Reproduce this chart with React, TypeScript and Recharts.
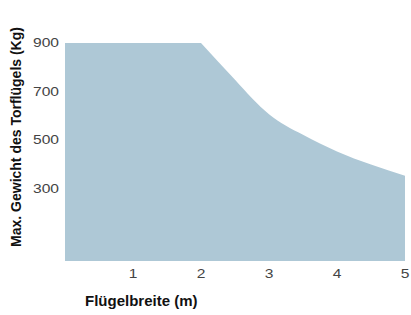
import React from "react";
import { AreaChart, Area, XAxis, YAxis } from "recharts";

// Flügelbreite (m) vs. max. Torflügel-Gewicht (Kg)
// flat part up to 2 m, then the falling curve
const flatWidths = [0, 1, 2];
const flatWeights = [900, 900, 900];
const curveWidths = [2, 2.5, 2.75, 3, 3.25, 3.5, 4, 4.5, 5];
const curveWeights = [900, 748, 672, 606, 558, 521, 452, 398, 352];

const xTicks = [1, 2, 3, 4, 5];
const yTicks = [300, 500, 700, 900];

const flatData = flatWidths.map((w, i) => ({ width: w, weight: flatWeights[i] }));
const curveData = curveWidths.map((w, i) => ({ width: w, weight: curveWeights[i] }));

const FONT = "'Liberation Sans', Arial, Helvetica, sans-serif";
const FILL = "#aec8d6";

// the reference's tick digits are wider than Arial, so stretch them a bit
const StretchTick = ({ x, y, payload, textAnchor, dy }: any) => (
  <g transform={`translate(${x},${y})`}>
    <text
      transform="scale(1.3,1)"
      textAnchor={textAnchor}
      dy={dy}
      fontSize={12}
      fill="#444"
      fontFamily={FONT}
    >
      {payload.value}
    </text>
  </g>
);

export default function App() {
  return (
    <div style={{ position: "absolute", left: 0, top: 0, fontFamily: FONT }}>
      <AreaChart
        width={411}
        height={315}
        margin={{ top: 43, right: 6, bottom: 0, left: 0 }}
      >
        <XAxis
          dataKey="width"
          type="number"
          domain={[0, 5]}
          ticks={xTicks}
          allowDuplicatedCategory={false}
          axisLine={false}
          tickLine={false}
          height={54}
          tick={(p: any) => <StretchTick {...p} textAnchor="middle" dy="0.71em" />}
          label={{
            content: () => (
              <text
                x={85}
                y={306}
                fontSize={15}
                fontWeight="bold"
                fill="#111"
                fontFamily={FONT}
              >
                Flügelbreite (m)
              </text>
            ),
          }}
        />
        <YAxis
          type="number"
          domain={[0, 900]}
          ticks={yTicks}
          axisLine={false}
          tickLine={false}
          tickSize={4}
          width={65}
          tick={(p: any) => <StretchTick {...p} textAnchor="end" dy="0.355em" />}
          label={{
            content: () => (
              <text
                x={21}
                y={137}
                fontSize={14}
                fontWeight="bold"
                fill="#111"
                fontFamily={FONT}
                textAnchor="middle"
                transform="rotate(-90 21 137)"
              >
                Max. Gewicht des Torflügels (Kg)
              </text>
            ),
          }}
        />
        <Area
          data={flatData}
          type="linear"
          dataKey="weight"
          stroke="none"
          fill={FILL}
          fillOpacity={1}
          isAnimationActive={false}
        />
        <Area
          data={curveData}
          type="monotone"
          dataKey="weight"
          stroke="none"
          fill={FILL}
          fillOpacity={1}
          isAnimationActive={false}
        />
      </AreaChart>
    </div>
  );
}
